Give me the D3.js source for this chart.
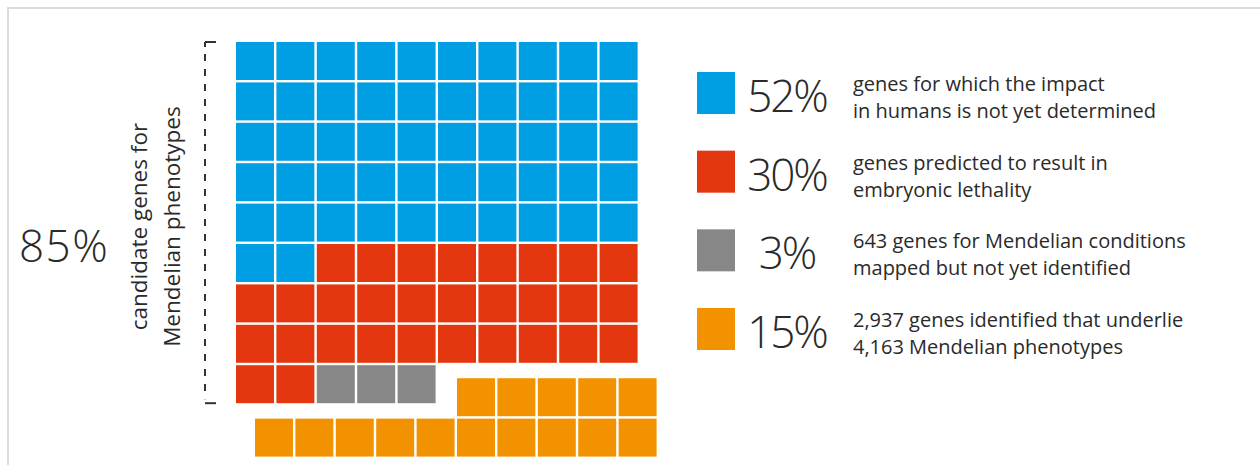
<!DOCTYPE html>
<meta charset="utf-8">
<head>
  <style>
    body { margin: 0; background: #fff; font-family: "Open Sans", "Noto Sans", Arial, sans-serif; }
    svg { display: block; }
    .desc { font-size: 20px; fill: #2a2a2a; }
    .pct { font-size: 44px; font-weight: 300; fill: #2a2a2a; }
  </style>
</head>
<body>
<svg id="chart" width="1260" height="465"></svg>
<script src="https://cdn.jsdelivr.net/npm/d3@7"></script>
<script>

// the data
var categories = ["undetermined", "lethal", "mapped", "identified"]
var shares = [52, 30, 3, 15]
var colors = ["#009fe3", "#e5370f", "#878787", "#f39200"]
var pctLabels = ["52%", "30%", "3%", "15%"]
var descLines = [
  ["genes for which the impact", "in humans is not yet determined"],
  ["genes predicted to result in", "embryonic lethality"],
  ["643 genes for Mendelian conditions", "mapped but not yet identified"],
  ["2,937 genes identified that underlie", "4,163 Mendelian phenotypes"]
]
var candidateLabel = ["candidate genes for", "Mendelian phenotypes"]
var candidateTotal = "85%"

var svg = d3.select("#chart"),
    width = +svg.attr("width"),
    height = +svg.attr("height");

// light frame round the figure
svg.append("rect")
  .attr("x", 8).attr("y", 8)
  .attr("width", width + 20).attr("height", height + 20)
  .attr("fill", "none")
  .attr("stroke", "#dcdcdc")
  .attr("stroke-width", 2)

// one cell per percent, filled row by row
var cells = []
var k = 0
shares.forEach(function(v, ci){
  for (var j = 0; j < v; j++) {
    cells.push({ i: k, cat: categories[ci], col: k % 10, row: Math.floor(k / 10) })
    k++
  }
})

var x = d3.scaleBand().domain(d3.range(10)).range([236, 637.6]).paddingInner(0.06)
var y = d3.scaleBand().domain(d3.range(10)).range([42, 443.6]).paddingInner(0.06)
var color = d3.scaleOrdinal().domain(categories).range(colors)

// the identified genes are pulled out of the block
var shift = { dx: 19, dy: 13 }
function isOut(d){ return d.cat == "identified" }

svg.append("g")
  .selectAll("rect")
  .data(cells)
  .enter()
  .append("rect")
    .attr("x", function(d){ return x(d.col) + (isOut(d) ? shift.dx : 0) })
    .attr("y", function(d){ return y(d.row) + (isOut(d) ? shift.dy : 0) })
    .attr("width", x.bandwidth())
    .attr("height", y.bandwidth())
    .attr("fill", function(d){ return color(d.cat) })

// bracket over the candidate rows
var lastCandidateRow = d3.max(cells.filter(function(d){ return !isOut(d) }), function(d){ return d.row })
var yTop = y(0), yBot = y(lastCandidateRow) + y.bandwidth()
var bx = 205
var br = svg.append("g").attr("stroke", "#333").attr("stroke-width", 2).attr("fill", "none")
br.append("line").attr("x1", bx).attr("x2", bx).attr("y1", yTop + 12).attr("y2", yBot - 4)
  .style("stroke-dasharray", "7,8")
br.append("line").attr("x1", bx).attr("x2", bx + 11).attr("y1", yTop).attr("y2", yTop)
br.append("line").attr("x1", bx).attr("x2", bx + 11).attr("y1", yBot).attr("y2", yBot)
br.append("line").attr("x1", bx).attr("x2", bx).attr("y1", yTop).attr("y2", yTop + 5)

var mid = (yTop + yBot) / 2
var rot = svg.append("text")
  .attr("transform", "translate(147," + (mid + 4) + ") rotate(-90)")
  .attr("text-anchor", "middle")
  .style("font-size", "22.5px")
  .style("fill", "#2a2a2a")
rot.append("tspan").attr("x", 0).attr("dy", 0).text(candidateLabel[0])
rot.append("tspan").attr("x", 0).attr("dy", 33).text(candidateLabel[1])

svg.append("text")
  .attr("class", "pct")
  .attr("x", 19)
  .attr("y", 262)
  .style("letter-spacing", "1.5px")
  .text(candidateTotal)

// legend
var ly = d3.scalePoint().domain(d3.range(categories.length)).range([72, 308])
var leg = svg.selectAll(".leg")
  .data(categories)
  .enter()
  .append("g")
    .attr("class", "leg")
    .attr("transform", function(d, i){ return "translate(0," + ly(i) + ")" })

leg.append("rect")
  .attr("x", 697).attr("y", 0)
  .attr("width", 38).attr("height", 42)
  .attr("fill", function(d){ return color(d) })

leg.append("text")
  .attr("class", "pct")
  .attr("x", 787).attr("y", 40)
  .attr("text-anchor", "middle")
  .style("letter-spacing", "-2px")
  .text(function(d, i){ return pctLabels[i] })

leg.each(function(d, i){
  var t = d3.select(this).append("text").attr("class", "desc")
  descLines[i].forEach(function(line, j){
    t.append("tspan").attr("x", 853).attr("y", 19 + j * 27).text(line)
  })
})

</script>
</body>
